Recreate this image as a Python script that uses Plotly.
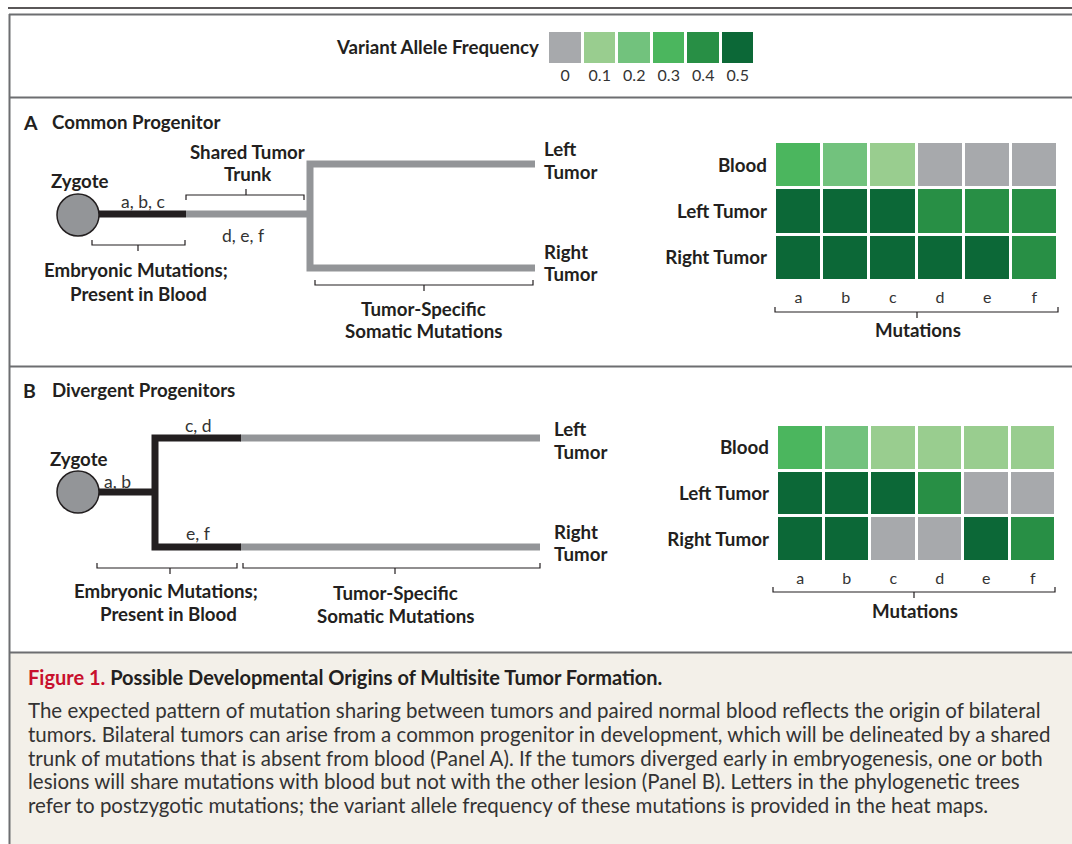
import plotly.graph_objects as go

# ---------------- data ----------------
MUTATIONS = ["a", "b", "c", "d", "e", "f"]
SAMPLES = ["Blood", "Left Tumor", "Right Tumor"]

VAF_LEVELS = [0, 0.1, 0.2, 0.3, 0.4, 0.5]
VAF_LABELS = ["0", "0.1", "0.2", "0.3", "0.4", "0.5"]
VAF_COLORS = ["#a7a9ac", "#99cd8f", "#72c27d", "#4bb65e", "#288f45", "#0c6837"]

# Panel A: Common progenitor
A_BLOOD = [0.3, 0.2, 0.1, 0, 0, 0]
A_LEFT = [0.5, 0.5, 0.5, 0.4, 0.4, 0.4]
A_RIGHT = [0.5, 0.5, 0.5, 0.5, 0.5, 0.4]

# Panel B: Divergent progenitors
B_BLOOD = [0.3, 0.2, 0.1, 0.1, 0.1, 0.1]
B_LEFT = [0.5, 0.5, 0.5, 0.4, 0, 0]
B_RIGHT = [0.5, 0.5, 0, 0, 0.5, 0.4]

CAPTION_TITLE_RED = "Figure 1."
CAPTION_TITLE = "Possible Developmental Origins of Multisite Tumor Formation."
CAPTION_LINES = [
    "The expected pattern of mutation sharing between tumors and paired normal blood reflects the origin of bilateral",
    "tumors. Bilateral tumors can arise from a common progenitor in development, which will be delineated by a shared",
    "trunk of mutations that is absent from blood (Panel A). If the tumors diverged early in embryogenesis, one or both",
    "lesions will share mutations with blood but not with the other lesion (Panel B). Letters in the phylogenetic trees",
    "refer to postzygotic mutations; the variant allele frequency of these mutations is provided in the heat maps.",
]

# ---------------- layout helpers ----------------
W, H = 1072, 844
FONT = "Lato"
DARK = "#231f20"
TXT = "#333333"
GRAY_LINE = "#939598"
FRAME = "#6d6e71"
BOLD_SIZE = 18.7
SMALL_SIZE = 17.5


def X(px):
    return px / W


def Y(py):
    return 1 - py / H


def path(*subpaths):
    parts = []
    for pts in subpaths:
        parts.append("M " + " L ".join(f"{X(x):.6f},{Y(y):.6f}" for x, y in pts))
    return " ".join(parts)


n = len(VAF_LEVELS)
colorscale = []
for i, c in enumerate(VAF_COLORS):
    colorscale.append([i / n, c])
    colorscale.append([(i + 1) / n, c])
ZMIN, ZMAX = -0.05, 0.55

fig = go.Figure()

# heat maps
fig.add_trace(go.Heatmap(
    z=[A_BLOOD, A_LEFT, A_RIGHT], x=MUTATIONS, y=SAMPLES,
    colorscale=colorscale, zmin=ZMIN, zmax=ZMAX, showscale=False,
    xgap=3, ygap=3, xaxis="x", yaxis="y", hoverinfo="skip"))
fig.add_trace(go.Heatmap(
    z=[B_BLOOD, B_LEFT, B_RIGHT], x=MUTATIONS, y=SAMPLES,
    colorscale=colorscale, zmin=ZMIN, zmax=ZMAX, showscale=False,
    xgap=3, ygap=3, xaxis="x2", yaxis="y2", hoverinfo="skip"))
# colour key
fig.add_trace(go.Heatmap(
    z=[VAF_LEVELS], x=VAF_LABELS, y=["k"],
    colorscale=colorscale, zmin=ZMIN, zmax=ZMAX, showscale=False,
    xgap=3, ygap=0, xaxis="x3", yaxis="y3", hoverinfo="skip"))

xax_common = dict(showgrid=False, zeroline=False, showline=False, ticks="",
                  tickfont=dict(family=FONT, size=16, color=TXT), fixedrange=True)
yax_common = dict(showgrid=False, zeroline=False, showline=False, ticks="",
                  autorange="reversed",
                  tickfont=dict(family=FONT, size=18.8, color=DARK, weight="bold"),
                  fixedrange=True)

fig.update_layout(
    width=W, height=H, margin=dict(l=0, r=0, t=0, b=0),
    paper_bgcolor="white", plot_bgcolor="white",
    xaxis=dict(domain=[X(775), X(1058)], anchor="y", ticklabelstandoff=5, **xax_common),
    yaxis=dict(domain=[Y(281), Y(142)], anchor="x", ticklabelstandoff=7, **yax_common),
    xaxis2=dict(domain=[X(777), X(1056)], anchor="y2", ticklabelstandoff=5, **xax_common),
    yaxis2=dict(domain=[Y(562), Y(425)], anchor="x2", ticklabelstandoff=7, **yax_common),
    xaxis3=dict(domain=[X(548), X(755)], anchor="y3", ticklabelstandoff=1, **xax_common),
    yaxis3=dict(domain=[Y(63), Y(32)], anchor="x3", showticklabels=False,
                showgrid=False, zeroline=False, fixedrange=True),
    showlegend=False,
)

shapes = []
# frame
shapes.append(dict(type="line", xref="paper", yref="paper", x0=X(8), x1=1, y0=Y(8), y1=Y(8),
                   line=dict(color=DARK, width=1.5)))
shapes.append(dict(type="rect", xref="paper", yref="paper", x0=X(10), x1=1, y0=0, y1=Y(653),
                   fillcolor="#f3f0e9", line=dict(width=0), layer="below"))
for yy in [14.5, 97.5, 366.5, 652.5]:
    shapes.append(dict(type="line", xref="paper", yref="paper", x0=X(9), x1=1, y0=Y(yy), y1=Y(yy),
                       line=dict(color=FRAME, width=2)))
shapes.append(dict(type="line", xref="paper", yref="paper", x0=X(9.5), x1=X(9.5), y0=Y(14), y1=0,
                   line=dict(color=FRAME, width=2)))


def branch(p, color, width=7):
    shapes.append(dict(type="path", xref="paper", yref="paper", path=p,
                       line=dict(color=color, width=width)))


def bracket(x0, x1, y, xm, up_ends=True, tick=6, end=5):
    e = -end if up_ends else end
    t = tick if up_ends else -tick
    p = path([(x0, y + e), (x0, y), (x1, y), (x1, y + e)], [(xm, y), (xm, y + t)])
    shapes.append(dict(type="path", xref="paper", yref="paper", path=p,
                       line=dict(color=DARK, width=1.2)))


def zygote(cx, cy, r=21):
    shapes.append(dict(type="circle", xref="paper", yref="paper",
                       x0=X(cx - r), x1=X(cx + r), y0=Y(cy + r), y1=Y(cy - r),
                       fillcolor="#939598", line=dict(color=DARK, width=1.5)))


# Panel A tree
branch(path([(186, 214), (310, 214)], [(535, 164), (310, 164), (310, 268), (535, 268)]), GRAY_LINE)
branch(path([(99, 214), (186, 214)]), DARK)
zygote(78, 215)
bracket(186, 304, 195, 246, up_ends=False)
bracket(92, 185, 245, 138)
bracket(315, 533, 285, 424)
bracket(775, 1058, 312, 917)

# Panel B tree
branch(path([(240, 438), (540, 438)], [(240, 547), (540, 547)]), GRAY_LINE)
branch(path([(99, 492), (155, 492)], [(241, 438), (155, 438), (155, 547), (241, 547)]), DARK)
zygote(78, 492)
bracket(97, 237, 568, 170)
bracket(243, 540, 568, 395)
bracket(773, 1055, 592, 914)

fig.update_layout(shapes=shapes)

ann = []


def label(x, y, text, anchor="center", size=BOLD_SIZE, bold=True, color=DARK):
    ann.append(dict(x=X(x), y=Y(y), xref="paper", yref="paper", text=text, showarrow=False,
                    xanchor=anchor, yanchor="middle",
                    font=dict(family=FONT, size=size, color=color,
                              weight="bold" if bold else "normal")))


# key
label(541, 47, "Variant Allele Frequency", anchor="right")
# Panel A
label(21, 122, "A", anchor="left", size=19.5)
label(50, 122, "Common Progenitor", anchor="left")
label(80, 181, "Zygote")
label(247, 152, "Shared Tumor")
label(247, 174, "Trunk")
label(143, 201, "a, b, c", size=SMALL_SIZE, bold=False, color=TXT)
label(243, 235, "d, e, f", size=SMALL_SIZE, bold=False, color=TXT)
label(136, 270, "Embryonic Mutations;")
label(138, 294, "Present in Blood")
label(542, 149, "Left", anchor="left")
label(542, 172, "Tumor", anchor="left")
label(542, 252, "Right", anchor="left")
label(542, 274, "Tumor", anchor="left")
label(423, 309, "Tumor-Specific")
label(423, 331, "Somatic Mutations")
label(918, 330, "Mutations")
# Panel B
label(21, 390, "B", anchor="left", size=19.5)
label(50, 390, "Divergent Progenitors", anchor="left")
label(79, 459, "Zygote")
label(117, 481, "a, b", size=SMALL_SIZE, bold=False, color=TXT)
label(198, 425, "c, d", size=SMALL_SIZE, bold=False, color=TXT)
label(198, 533, "e, f", size=SMALL_SIZE, bold=False, color=TXT)
label(552, 429, "Left", anchor="left")
label(552, 452, "Tumor", anchor="left")
label(552, 532, "Right", anchor="left")
label(552, 554, "Tumor", anchor="left")
label(166, 591, "Embryonic Mutations;")
label(168, 614, "Present in Blood")
label(395, 593, "Tumor-Specific")
label(395, 616, "Somatic Mutations")
label(915, 611, "Mutations")

# caption
ann.append(dict(x=X(26), y=Y(677), xref="paper", yref="paper", showarrow=False,
                xanchor="left", yanchor="middle",
                text=f"<span style='color:#c8102e'>{CAPTION_TITLE_RED}</span> {CAPTION_TITLE}",
                font=dict(family=FONT, size=20, color=DARK, weight="bold")))
for i, line in enumerate(CAPTION_LINES):
    ann.append(dict(x=X(26), y=Y(710 + i * 23.8), xref="paper", yref="paper", showarrow=False,
                    xanchor="left", yanchor="middle", text=line,
                    font=dict(family=FONT, size=20.5, color=TXT)))

fig.update_layout(annotations=ann)

fig.write_html("out.html", post_script="document.body.style.margin='0px';",
               config={"displayModeBar": False})
